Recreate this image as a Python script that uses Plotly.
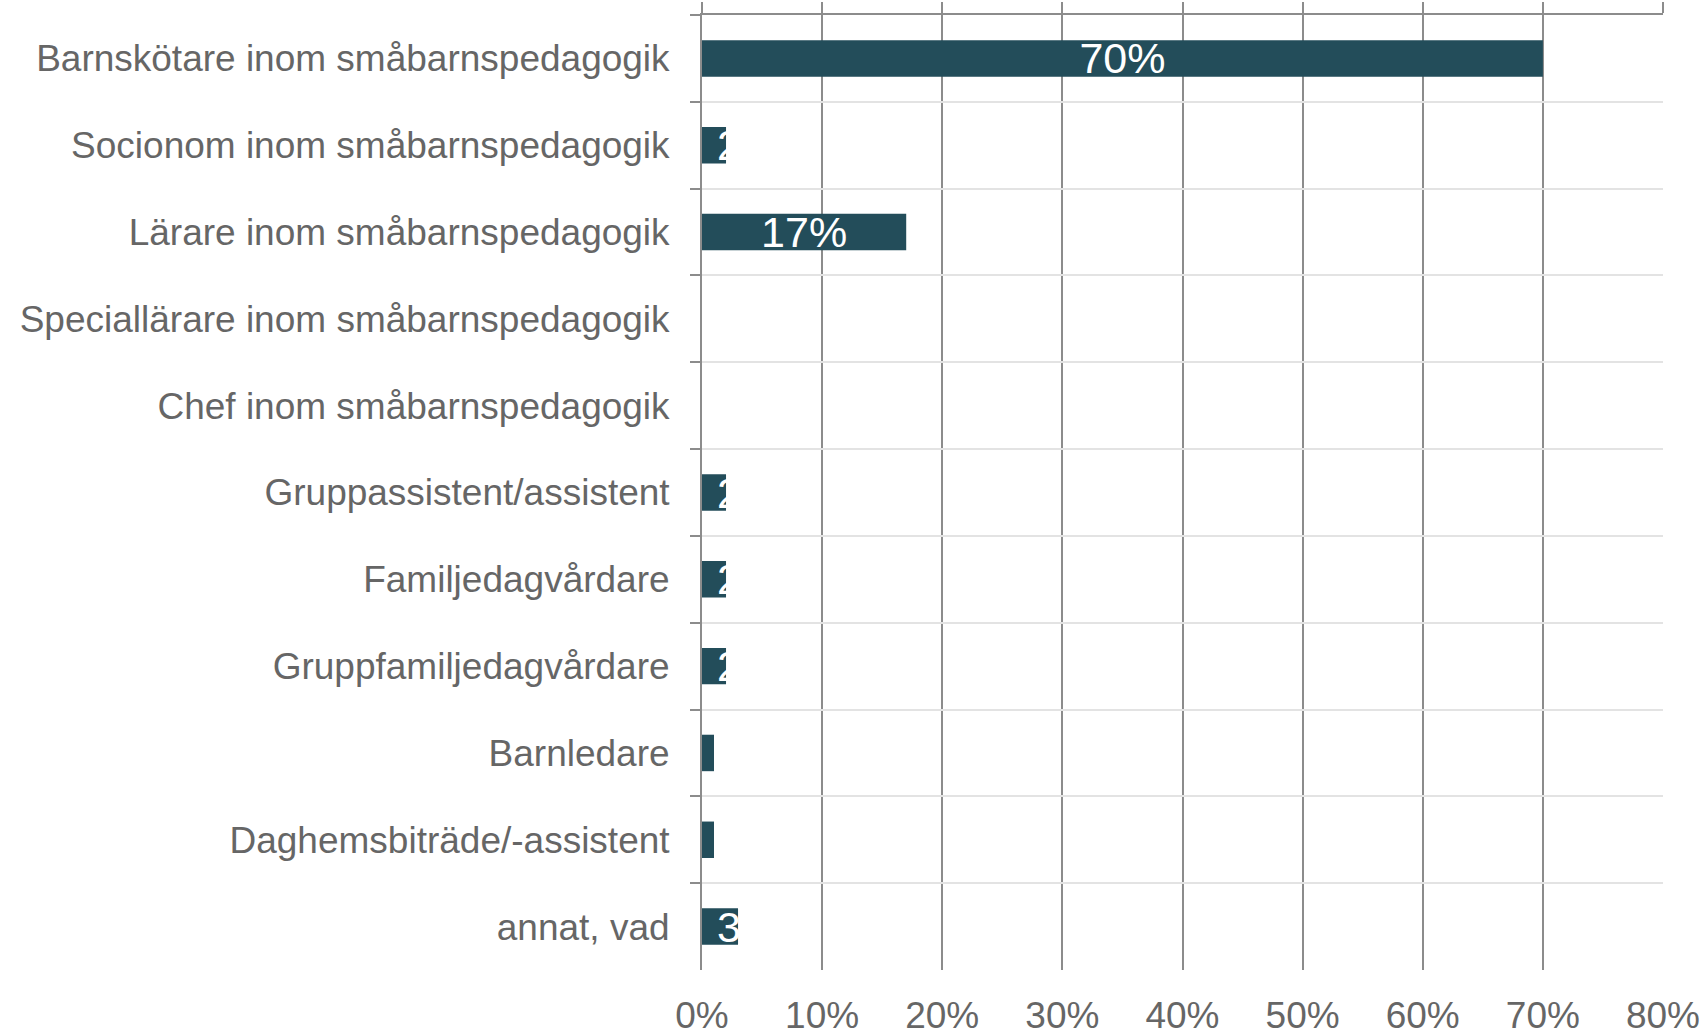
import plotly.graph_objects as go

categories = [
    "Barnskötare inom småbarnspedagogik",
    "Socionom inom småbarnspedagogik",
    "Lärare inom småbarnspedagogik",
    "Speciallärare inom småbarnspedagogik",
    "Chef inom småbarnspedagogik",
    "Gruppassistent/assistent",
    "Familjedagvårdare",
    "Gruppfamiljedagvårdare",
    "Barnledare",
    "Daghemsbiträde/-assistent",
    "annat, vad",
]
values = [70, 2, 17, 0, 0, 2, 2, 2, 1, 1, 3]
x_ticks = [0, 10, 20, 30, 40, 50, 60, 70, 80]

BAR = "#234d5a"
GRID_V = "#8c8c8c"
GRID_H = "#e3e3e3"
TEXT = "#666666"
FONT = "Liberation Sans, Arial, sans-serif"

# wide bars get a centred label, narrow ones a label that runs out of the bar
big = [(c, v) for c, v in zip(categories, values) if v >= 10]
small = [(c, v) for c, v in zip(categories, values) if v < 10]

fig = go.Figure()
fig.add_trace(go.Bar(
    y=[c for c, _ in big], x=[v for _, v in big], orientation="h",
    marker=dict(color=BAR, line=dict(width=0)),
    text=[f"{v}%" for _, v in big], textposition="inside",
    insidetextanchor="middle", textangle=0, constraintext="none",
    textfont=dict(color="white", size=43, family=FONT),
    hoverinfo="skip", showlegend=False,
))
fig.add_trace(go.Bar(
    y=[c for c, _ in small], x=[v for _, v in small], orientation="h",
    marker=dict(color=BAR, line=dict(width=0)),
    text=["\u00a0" + f"{v}%" if v > 0 else "" for _, v in small],
    textposition="inside", insidetextanchor="start", textangle=0,
    constraintext="none",
    textfont=dict(color="white", size=43, family=FONT),
    hoverinfo="skip", showlegend=False,
))
# invisible trace so the top axis is drawn
fig.add_trace(go.Scatter(x=[0], y=[categories[0]], xaxis="x2", mode="none",
                         hoverinfo="skip", showlegend=False))

n = len(categories)
fig.update_layout(
    width=1706, height=1034,
    margin=dict(l=702, r=43, t=15, b=64),
    paper_bgcolor="white", plot_bgcolor="white",
    barmode="overlay", bargap=0.58,
    font=dict(family=FONT, color=TEXT, size=37),
    uniformtext=dict(minsize=43, mode="show"),
    xaxis=dict(
        range=[0, 80], tickvals=x_ticks, ticktext=[f"{t}%" for t in x_ticks],
        showgrid=True, gridcolor=GRID_V, gridwidth=2,
        zeroline=False, showline=False, ticks="",
        ticklabelstandoff=20, automargin=False, ticklabeloverflow="allow",
        tickfont=dict(size=37, color=TEXT),
    ),
    xaxis2=dict(
        overlaying="x", side="top", range=[0, 80], tickvals=x_ticks,
        showticklabels=False, showgrid=False, zeroline=False,
        ticks="outside", ticklen=11, tickwidth=2, tickcolor=GRID_V,
        showline=True, linecolor=GRID_V, linewidth=2, automargin=False,
    ),
    yaxis=dict(
        type="category", categoryorder="array", categoryarray=categories,
        range=[n - 0.5, -0.5], tickson="boundaries",
        showgrid=True, gridcolor=GRID_H, gridwidth=2,
        ticks="outside", ticklen=10, tickwidth=2, tickcolor=GRID_V,
        showline=True, linecolor=GRID_V, linewidth=2,
        ticklabelstandoff=23, automargin=False,
        tickfont=dict(size=37, color=TEXT),
    ),
)

# drop the default page margin so the figure fills the window exactly
fig.write_html(
    "out.html",
    config={"displayModeBar": False},
    post_script="document.body.style.margin = '0';",
)
